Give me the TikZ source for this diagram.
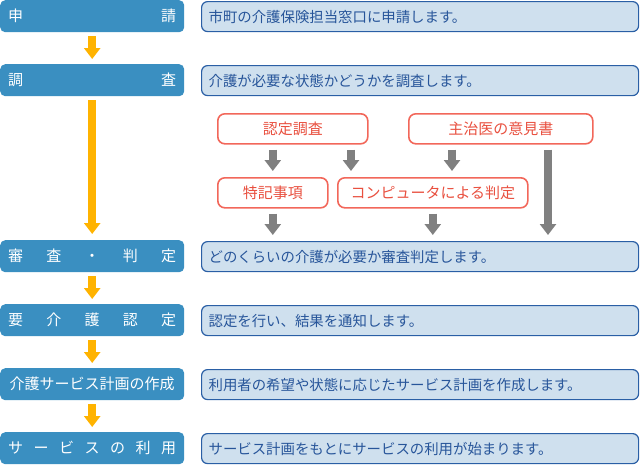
\documentclass[tikz,border=0pt]{standalone}
\usepackage{fontspec}
\setmainfont{Noto Sans CJK JP}
\usetikzlibrary{arrows.meta,calc}
\definecolor{stepblue}{HTML}{3A8FC1}
\definecolor{descfill}{HTML}{CFE0EE}
\definecolor{descline}{HTML}{2A5FA5}
\definecolor{desctext}{HTML}{27559A}
\definecolor{orangearr}{HTML}{FFB300}
\definecolor{grayarr}{HTML}{808080}
\definecolor{redline}{HTML}{F2675A}
\definecolor{redtext}{HTML}{E9503F}
\newcommand\spreadtext[1]{\hbox to 168pt{#1}}
\begin{document}
\begin{tikzpicture}[x=1pt,y=-1pt,
  stepbox/.style={fill=stepblue, rounded corners=5pt, minimum width=184pt, minimum height=32pt,
    inner xsep=8pt, inner ysep=0pt, anchor=north west, text=white, font=\fontsize{15}{15}\selectfont},
  descbox/.style={fill=descfill, draw=descline, line width=1.2pt, rounded corners=6pt,
    text width=423pt, inner xsep=7pt, inner ysep=0pt, minimum height=30pt, align=left,
    anchor=north west, text=desctext, font=\fontsize{14.4}{14.4}\selectfont},
  checkbox/.style={fill=white, draw=redline, line width=1.6pt, rounded corners=7pt,
    minimum height=30pt, inner sep=0pt, anchor=north west, text=redtext,
    font=\fontsize{15}{15}\selectfont},
  oarrow/.style={draw=orangearr, line width=8pt, -{Triangle[width=16pt,length=11pt]}},
  garrow/.style={draw=grayarr, line width=8pt, -{Triangle[width=16pt,length=11pt]}}]
\useasboundingbox (0,0) rectangle (640,464);

% left step boxes
\node[stepbox] (s1) at (0,0) {\spreadtext{申\hfil 請}};
\node[stepbox] (s2) at (0,64) {\spreadtext{調\hfil 査}};
\node[stepbox] (s3) at (0,240) {\spreadtext{審\hfil 査\hfil ・\hfil 判\hfil 定}};
\node[stepbox] (s4) at (0,304) {\spreadtext{要\hfil 介\hfil 護\hfil 認\hfil 定}};
\node[stepbox] (s5) at (0,368) {\spreadtext{\hfil 介護サービス計画の作成\hfil}};
\node[stepbox] (s6) at (0,432) {\spreadtext{サ\hfil ー\hfil ビ\hfil ス\hfil の\hfil 利\hfil 用}};

% right description boxes
\node[descbox] (d1) at (201,1) {市町の介護保険担当窓口に申請します。};
\node[descbox] (d2) at (201,65) {介護が必要な状態かどうかを調査します。};
\node[descbox] (d3) at (201,241) {どのくらいの介護が必要か審査判定します。};
\node[descbox] (d4) at (201,305) {認定を行い、結果を通知します。};
\node[descbox] (d5) at (201,369) {利用者の希望や状態に応じたサービス計画を作成します。};
\node[descbox] (d6) at (201,433) {サービス計画をもとにサービスの利用が始まります。};

% investigation boxes
\node[checkbox, minimum width=150pt] (r1) at (217,113) {認定調査};
\node[checkbox, minimum width=184pt] (r2) at (408,113) {主治医の意見書};
\node[checkbox, minimum width=110pt] (r3) at (217,177) {特記事項};
\node[checkbox, minimum width=190pt] (r4) at (337,177) {コンピュータによる判定};

% orange flow arrows
\draw[oarrow, shorten <=4pt, shorten >=5pt] (s1.south) -- (s2.north);
\draw[oarrow, shorten <=4pt, shorten >=6pt] (s2.south) -- (s3.north);
\draw[oarrow, shorten <=4pt, shorten >=5pt] (s3.south) -- (s4.north);
\draw[oarrow, shorten <=4pt, shorten >=5pt] (s4.south) -- (s5.north);
\draw[oarrow, shorten <=4pt, shorten >=5pt] (s5.south) -- (s6.north);

% gray arrows
\coordinate (xa) at (351,0);
\coordinate (xb) at (452,0);
\coordinate (xc) at (548,0);
\draw[garrow, shorten <=5pt, shorten >=6pt] (r1.south -| r3.north) -- (r3.north);
\draw[garrow, shorten <=5pt, shorten >=6pt] (r1.south -| xa) -- (r4.north -| xa);
\draw[garrow, shorten <=5pt, shorten >=6pt] (r2.south -| xb) -- (r4.north -| xb);
\draw[garrow, shorten <=5pt, shorten >=6pt] (r2.south -| xc) -- (d3.north -| xc);
\draw[garrow, shorten <=5pt, shorten >=6pt] (r3.south) -- (d3.north -| r3.south);
\draw[garrow, shorten <=5pt, shorten >=6pt] (r4.south) -- (d3.north -| r4.south);
\end{tikzpicture}
\end{document}
